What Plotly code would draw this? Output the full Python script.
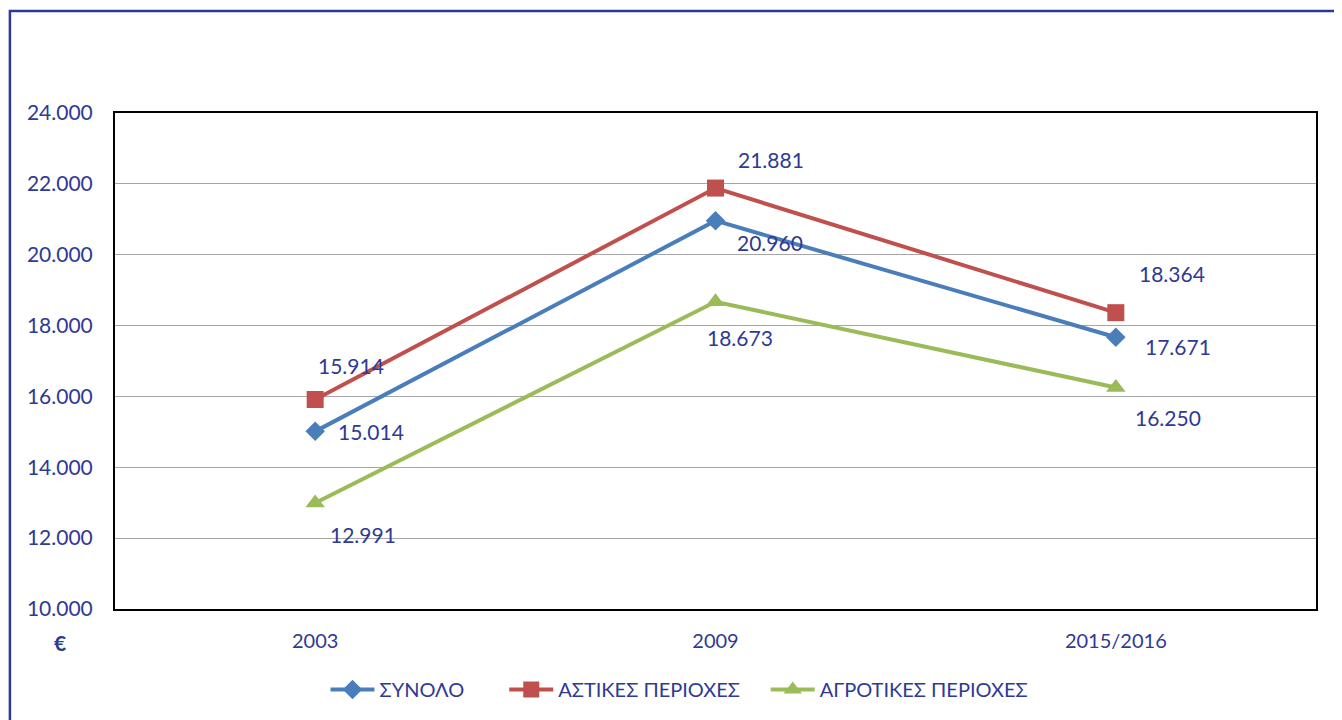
import plotly.graph_objects as go

categories = ["2003", "2009", "2015/2016"]
synolo = [15014, 20960, 17671]
astikes = [15914, 21881, 18364]
agrotikes = [12991, 18673, 16250]
series_names = ["ΣΥΝΟΛΟ", "ΑΣΤΙΚΕΣ ΠΕΡΙΟΧΕΣ", "ΑΓΡΟΤΙΚΕΣ ΠΕΡΙΟΧΕΣ"]
y_ticks = [10000, 12000, 14000, 16000, 18000, 20000, 22000, 24000]

TXT = "#2E3A94"
FONT = "Lato, 'Noto Sans', sans-serif"

colors = ["#4A7EBB", "#C0504D", "#9BBB59"]
symbols = ["diamond", "square", "triangle-up"]
msizes = [15, 17, 17]
data = [synolo, astikes, agrotikes]
legend_ids = ["legend", "legend2", "legend3"]
legend_x = [0.238, 0.372, 0.568]

# label pixel offsets (dx, dy) per series per point
offsets = [
    [(56, 0), (54, -22), (62, -9)],
    [(36, 34), (55, 29), (56, 39)],
    [(48, -31), (24, -36), (52, -30)],
]

def fmt(v):
    return f"{v:,}".replace(",", ".")

fig = go.Figure()
for name, vals, c, s, ms, lg in zip(series_names, data, colors, symbols, msizes, legend_ids):
    fig.add_trace(go.Scatter(
        x=categories, y=vals, name=name, mode="lines+markers",
        line=dict(color=c, width=4),
        marker=dict(symbol=s, size=ms, color=c),
        legend=lg,
    ))

annotations = []
for vals, offs in zip(data, offsets):
    for i, (v, (dx, dy)) in enumerate(zip(vals, offs)):
        annotations.append(dict(
            x=i, y=v, xref="x", yref="y", text=fmt(v), showarrow=False,
            xanchor="center", yanchor="middle",
            xshift=dx, yshift=dy, font=dict(size=21, color=TXT, family=FONT),
        ))

annotations.append(dict(
    x=-0.0458, y=-0.0685, xref="paper", yref="paper", text="<b>€</b>",
    xanchor="center", yanchor="middle",
    showarrow=False, font=dict(size=21, color=TXT, family=FONT),
))

legend_common = dict(orientation="h", xref="container", yref="container",
                     xanchor="left", yanchor="middle", y=0.043,
                     font=dict(size=20, color=TXT, family=FONT),
                     itemwidth=44, bgcolor="rgba(0,0,0,0)")

fig.update_layout(
    width=1334, height=712,
    margin=dict(l=107, r=26, t=105, b=111, autoexpand=False),
    paper_bgcolor="white", plot_bgcolor="white",
    separators=",.",
    font=dict(family=FONT, color=TXT, size=20),
    showlegend=True,
    legend=dict(x=legend_x[0], **legend_common),
    legend2=dict(x=legend_x[1], **legend_common),
    legend3=dict(x=legend_x[2], **legend_common),
    annotations=annotations,
    shapes=[dict(type="rect", xref="paper", yref="paper",
                 x0=-0.0875, x1=1.0205, y0=-0.3, y1=1.2056,
                 line=dict(color="#2B3A9A", width=2.5), layer="below")],
)
fig.update_xaxes(
    type="category", range=[-0.5, 2.5], showgrid=False,
    showline=True, linecolor="black", linewidth=2, mirror=True,
    ticks="", ticklabelstandoff=13, tickfont=dict(size=20, color=TXT, family=FONT),
)
fig.update_yaxes(
    range=[10000, 24000], tickvals=y_ticks, tickformat=",d",
    showgrid=True, gridcolor="#A6A6A6", gridwidth=1,
    showline=True, linecolor="black", linewidth=2, mirror=True,
    ticks="", ticklabelstandoff=16, tickfont=dict(size=21, color=TXT, family=FONT),
    zeroline=False,
)

fig.write_html("out.html")
